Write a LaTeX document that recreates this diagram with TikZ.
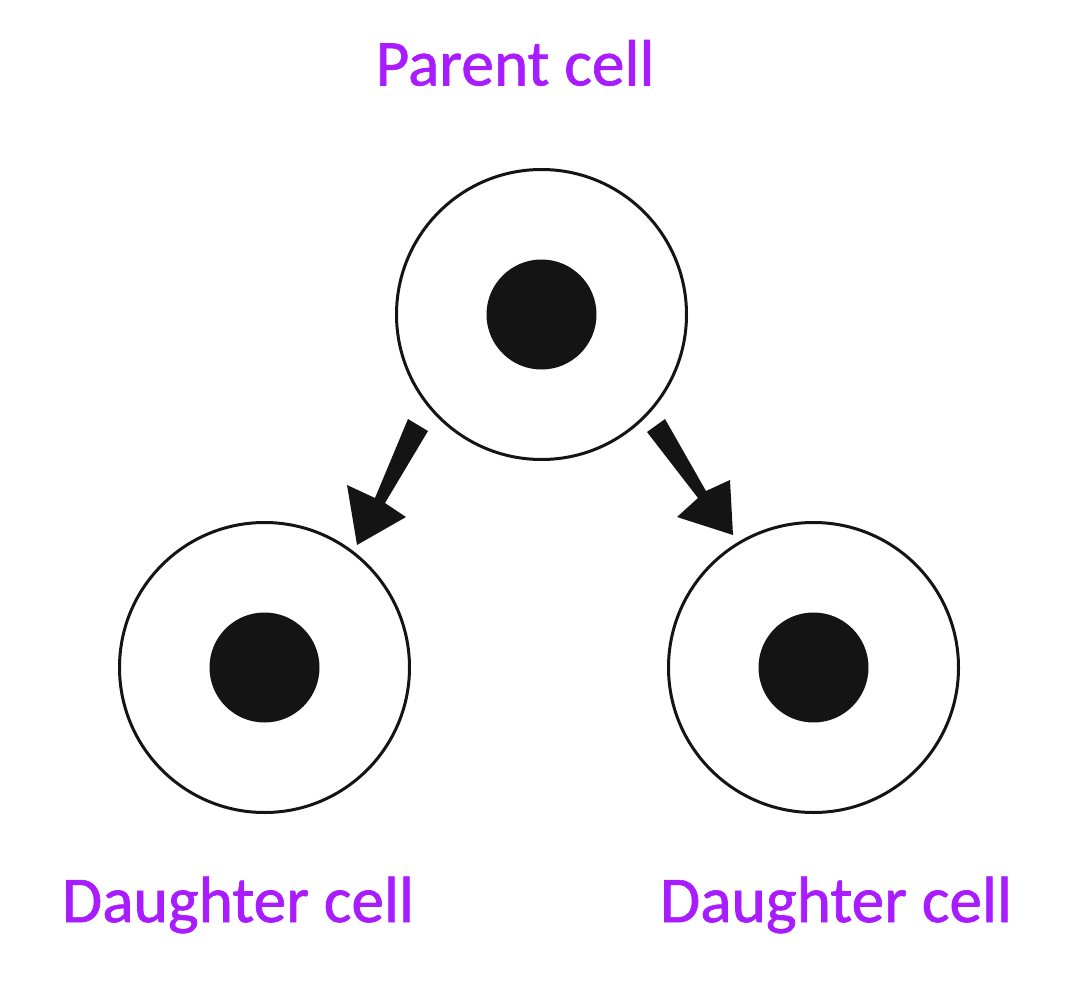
\documentclass[tikz,border=0pt]{standalone}
\usepackage{xcolor}
\usepackage{fontspec}
\newfontfamily\lblfont{Carlito}[FakeBold=1]
\usepackage{tikz}
\usetikzlibrary{calc}
\definecolor{labelpurple}{HTML}{A81CFF}
\definecolor{cellblack}{HTML}{141414}
\begin{document}
\begin{tikzpicture}[x=1pt, y=-1pt]
    \tikzstyle{cell} = [circle, draw=cellblack, line width=3pt, fill=white, minimum size=290pt, inner sep=0pt]
    \tikzstyle{nucleus} = [circle, fill=cellblack, minimum size=110pt, inner sep=0pt]
    \tikzstyle{lbl} = [text=labelpurple, font=\lblfont\fontsize{65.4}{68}\selectfont, inner sep=0pt]
    \tikzstyle{shaft} = [fill=cellblack]

    \useasboundingbox (0,0) rectangle (1074,982);

    \node [cell] (parent) at (541.5,314.5) {};
    \node [nucleus] (parentnuc) at (541.5,314.5) {};
    \node [cell] (left) at (264.5,667.5) {};
    \node [nucleus] (leftnuc) at (264.5,667.5) {};
    \node [cell] (right) at (813.5,667.5) {};
    \node [nucleus] (rightnuc) at (813.5,667.5) {};

    \node [lbl] (parentlbl) at (515,63) {Parent cell};
    \node [lbl] (leftlbl) at (238,905) {Daughter cell};
    \node [lbl] (rightlbl) at (836,905) {Daughter cell};

    % arrows are drawn by hand, tip wider than the tapered tail
    \coordinate (ltip) at (357,545);
    \coordinate (rtip) at (733,535);
    \fill [shaft] (408,419) -- (428,431) -- (385,503) -- (406,517) -- (ltip) -- (347,485) -- (375,498) -- cycle;
    \fill [shaft] (665,419) -- (647,432) -- (698,498) -- (677,517) -- (rtip) -- (730,480) -- (706,491) -- cycle;
\end{tikzpicture}
\end{document}
